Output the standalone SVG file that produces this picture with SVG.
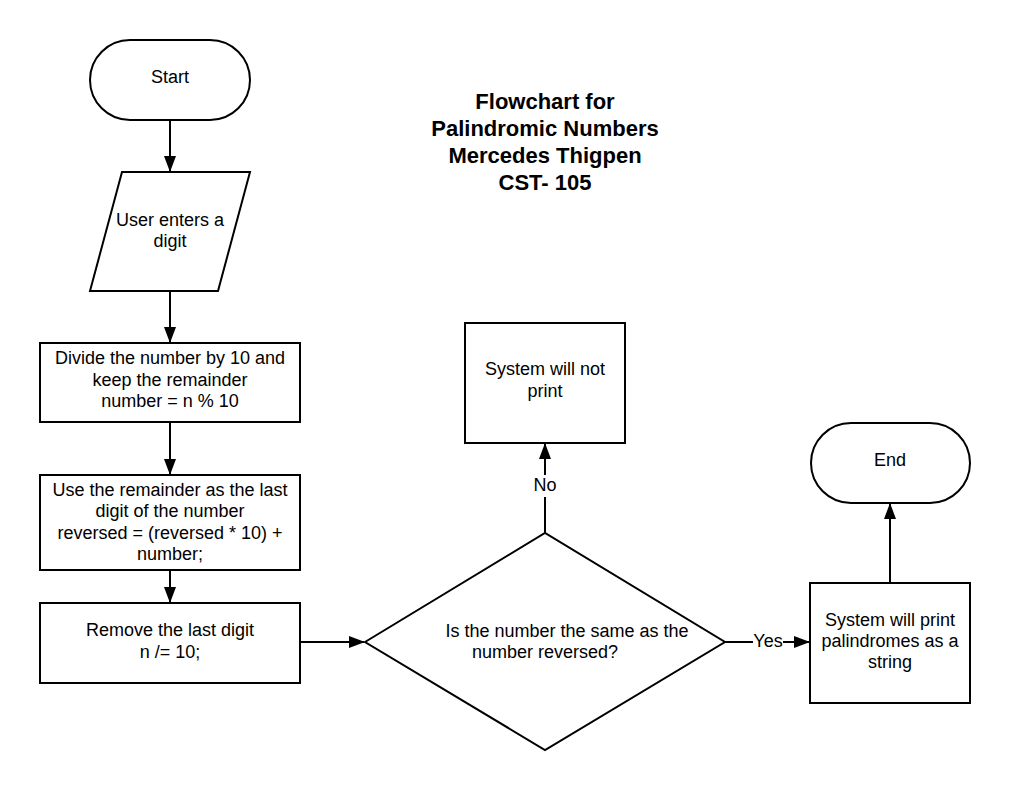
<svg xmlns="http://www.w3.org/2000/svg" width="1010" height="793" viewBox="0 0 1010 793">
<style>
.s{fill:#fff;stroke:#000;stroke-width:2}
.t{font-family:"Liberation Sans",Arial,sans-serif;font-size:18px;fill:#000;text-anchor:middle}
.h{font-family:"Liberation Sans",Arial,sans-serif;font-size:22px;font-weight:bold;fill:#000;text-anchor:middle}
.c{fill:none;stroke:#000;stroke-width:2}
</style>
<defs>
<marker id="ah" markerUnits="userSpaceOnUse" markerWidth="16" markerHeight="12" refX="15" refY="6" orient="auto">
<path d="M0,0 L16,6 L0,12 z" fill="#000"/>
</marker>
</defs>
<rect width="1010" height="793" fill="#fff"/>
<g id="title">
<text class="h" x="545" y="109">Flowchart for</text>
<text class="h" x="545" y="136">Palindromic Numbers</text>
<text class="h" x="545" y="163">Mercedes Thigpen</text>
<text class="h" x="545" y="190">CST- 105</text>
</g>
<g id="connectors">
<line class="c" x1="170" y1="120" x2="170" y2="171" marker-end="url(#ah)"/>
<line class="c" x1="170" y1="291" x2="170" y2="342" marker-end="url(#ah)"/>
<line class="c" x1="170" y1="422" x2="170" y2="474" marker-end="url(#ah)"/>
<line class="c" x1="170" y1="570" x2="170" y2="602" marker-end="url(#ah)"/>
<line class="c" x1="300" y1="642" x2="364" y2="642" marker-end="url(#ah)"/>
<line class="c" x1="545" y1="533" x2="545" y2="444" marker-end="url(#ah)"/>
<line class="c" x1="725" y1="642" x2="809" y2="642" marker-end="url(#ah)"/>
<line class="c" x1="890" y1="583" x2="890" y2="504" marker-end="url(#ah)"/>
<rect x="532" y="475" width="26" height="22" fill="#fff"/>
<text class="t" x="545" y="491">No</text>
<rect x="753" y="632" width="30" height="20" fill="#fff"/>
<text class="t" x="768" y="647">Yes</text>
</g>
<g id="start">
<rect class="s" x="90" y="40" width="160" height="80" rx="40" ry="40"/>
<text class="t" x="170" y="83">Start</text>
</g>
<g id="input">
<polygon class="s" points="122,172 250,172 218,291 90,291"/>
<text class="t" x="170" y="226">User enters a</text>
<text class="t" x="170" y="247">digit</text>
</g>
<g id="divide">
<rect class="s" x="40" y="343" width="260" height="79"/>
<text class="t" x="170" y="364">Divide the number by 10 and</text>
<text class="t" x="170" y="386">keep the remainder</text>
<text class="t" x="170" y="407">number = n % 10</text>
</g>
<g id="reverse">
<rect class="s" x="40" y="475" width="260" height="95"/>
<text class="t" x="170" y="496">Use the remainder as the last</text>
<text class="t" x="170" y="517">digit of the number</text>
<text class="t" x="170" y="539">reversed = (reversed * 10) +</text>
<text class="t" x="170" y="560">number;</text>
</g>
<g id="remove">
<rect class="s" x="40" y="603" width="260" height="80"/>
<text class="t" x="170" y="636">Remove the last digit</text>
<text class="t" x="170" y="658">n /= 10;</text>
</g>
<g id="decision">
<polygon class="s" points="365,642 545,533 725,642 545,750"/>
<text class="t" x="567" y="637">Is the number the same as the</text>
<text class="t" x="545" y="658">number reversed?</text>
</g>
<g id="notprint">
<rect class="s" x="465" y="323" width="160" height="120"/>
<text class="t" x="545" y="375">System will not</text>
<text class="t" x="545" y="397">print</text>
</g>
<g id="print">
<rect class="s" x="810" y="583" width="160" height="120"/>
<text class="t" x="890" y="626">System will print</text>
<text class="t" x="890" y="647">palindromes as a</text>
<text class="t" x="890" y="668">string</text>
</g>
<g id="end">
<rect class="s" x="811" y="423" width="159" height="80" rx="40" ry="40"/>
<text class="t" x="890" y="466">End</text>
</g>
</svg>
